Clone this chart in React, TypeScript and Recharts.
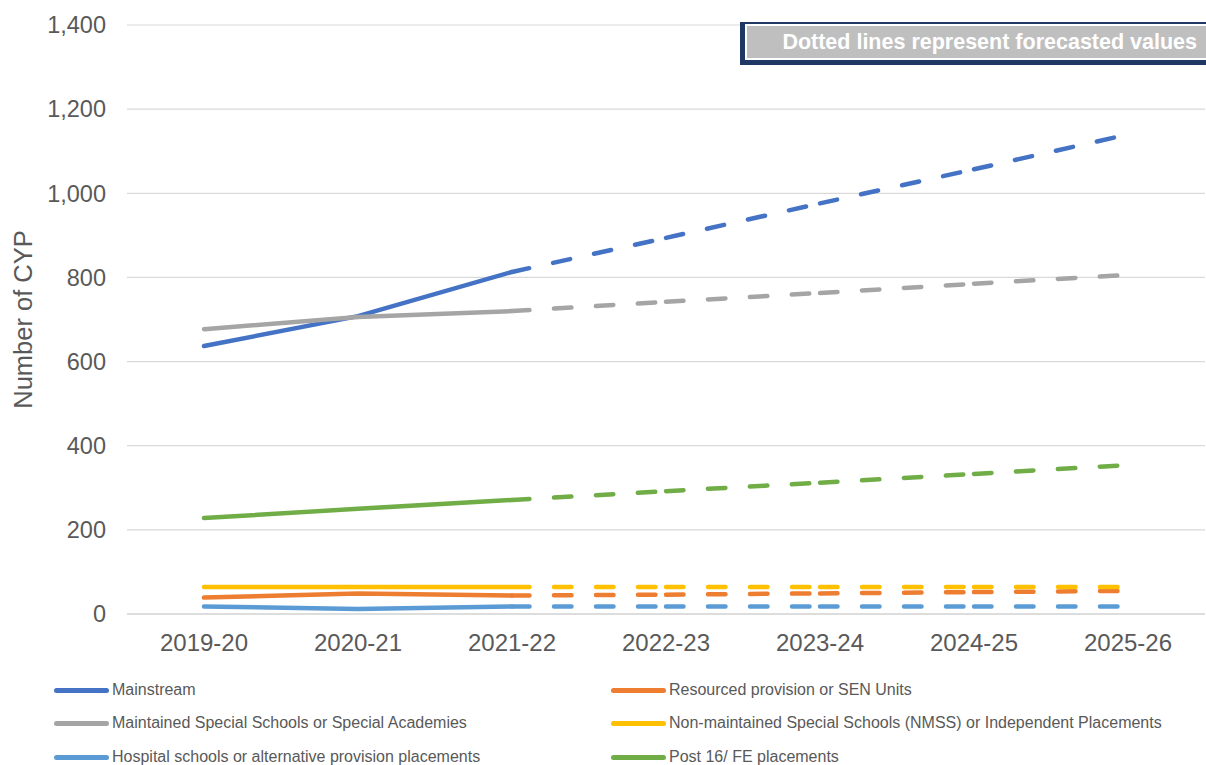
import { LineChart, Line, XAxis, YAxis, CartesianGrid } from 'recharts';

const categories = ['2019-20', '2020-21', '2021-22', '2022-23', '2023-24', '2024-25', '2025-26'];

const mainstream = [637, 708, 813, 894, 976, 1057, 1140];
const resourced = [39, 49, 44, 46, 49, 52, 55];
const maintained = [677, 706, 720, 742, 763, 785, 806];
const nmss = [64, 64, 64, 64, 64, 64, 64];
const hospital = [18, 12, 18, 18, 18, 18, 18];
const post16 = [228, 250, 271, 292, 312, 333, 354];

const yTicks = [0, 200, 400, 600, 800, 1000, 1200, 1400];
const lastActual = 2; // 2021-22 is the last actual year, later ones are forecasts

const series = [
  { key: 'mainstream', name: 'Mainstream', color: '#4472c4', values: mainstream },
  { key: 'resourced', name: 'Resourced provision or SEN Units', color: '#ed7d31', values: resourced },
  { key: 'maintained', name: 'Maintained Special Schools or Special Academies', color: '#a5a5a5', values: maintained },
  { key: 'nmss', name: 'Non-maintained Special Schools (NMSS) or Independent Placements', color: '#ffc000', values: nmss },
  { key: 'hospital', name: 'Hospital schools or alternative provision placements', color: '#5b9bd5', values: hospital },
  { key: 'post16', name: 'Post 16/ FE placements', color: '#70ad47', values: post16 },
];

const segCount = categories.length - 1 - lastActual;

// one row per year; forecast split in segments so the dash pattern restarts at each point (like Excel)
const data = categories.map((year, i) => {
  const row: Record<string, string | number | null> = { year };
  series.forEach((s) => {
    row[s.key] = i <= lastActual ? s.values[i] : null;
    for (let j = 0; j < segCount; j++) {
      row[`${s.key}_f${j}`] = i === lastActual + j || i === lastActual + j + 1 ? s.values[i] : null;
    }
  });
  return row;
});

const FONT = '"Liberation Sans", Arial, sans-serif';
const TEXT = '#595959';

const YLabel = ({ viewBox }: any) => {
  const x = viewBox.x + 23;
  const y = viewBox.y + viewBox.height / 2;
  return (
    <text x={x} y={y} transform={`rotate(-90, ${x}, ${y})`} textAnchor="middle" dominantBaseline="central"
      fill={TEXT} fontSize={25.5} fontFamily={FONT}>
      Number of CYP
    </text>
  );
};

function LegendBox() {
  const cols = [54, 611];
  const rows = [690, 723, 757];
  return (
    <>
      {series.map((s, i) => (
        <div key={s.key} style={{
          position: 'absolute', left: cols[i % 2], top: rows[Math.floor(i / 2)] - 10, height: 20,
          display: 'flex', alignItems: 'center', whiteSpace: 'nowrap',
        }}>
          <div style={{ width: 55, height: 5, borderRadius: 3, background: s.color }} />
          <span style={{ marginLeft: 3, fontSize: 16, color: TEXT, fontFamily: FONT }}>{s.name}</span>
        </div>
      ))}
    </>
  );
}

export default function App() {
  return (
    <div style={{ position: 'absolute', left: 0, top: 0, width: 1206, height: 765, background: '#fff' }}>
      <LineChart width={1206} height={765} data={data} margin={{ top: 25, right: 1, left: 0, bottom: 111 }}>
        <CartesianGrid vertical={false} stroke="#d9d9d9" strokeWidth={1.2} />
        <XAxis
          dataKey="year"
          padding={{ left: 77, right: 77 }}
          tickLine={false}
          axisLine={{ stroke: '#d9d9d9', strokeWidth: 1.5 }}
          tickMargin={14}
          height={40}
          tick={{ fontSize: 24, fill: TEXT, fontFamily: FONT }}
        />
        <YAxis
          domain={[0, 1400]}
          ticks={yTicks}
          tickFormatter={(v: number) => v.toLocaleString('en-GB')}
          axisLine={false}
          tickLine={false}
          width={127}
          tickMargin={15}
          tick={{ fontSize: 23.5, fill: TEXT, fontFamily: FONT }}
          label={<YLabel />}
        />
        {series.flatMap((s) => [
          <Line key={s.key} dataKey={s.key} stroke={s.color} strokeWidth={4.5} strokeLinecap="round"
            dot={false} activeDot={false} isAnimationActive={false} />,
          ...Array.from({ length: segCount }, (_, j) => (
            <Line key={`${s.key}_f${j}`} dataKey={`${s.key}_f${j}`} stroke={s.color} strokeWidth={4.5}
              strokeLinecap="round" strokeDasharray="17.5 24.5" dot={false} activeDot={false}
              isAnimationActive={false} />
          )),
        ])}
      </LineChart>

      <div style={{ position: 'absolute', left: 740, top: 22, width: 466, height: 43, background: '#1f3864' }}>
        <div style={{ position: 'absolute', left: 5, top: 2, right: 0, height: 36, background: '#fff' }}>
          <div style={{
            position: 'absolute', left: 2, top: 2, right: 0, bottom: 2, background: '#bfbfbf',
            display: 'flex', alignItems: 'center', justifyContent: 'flex-end', paddingRight: 9,
            color: '#fff', fontWeight: 'bold', fontSize: 21.5, fontFamily: FONT, whiteSpace: 'nowrap',
          }}>
            Dotted lines represent forecasted values
          </div>
        </div>
      </div>

      <LegendBox />
    </div>
  );
}
